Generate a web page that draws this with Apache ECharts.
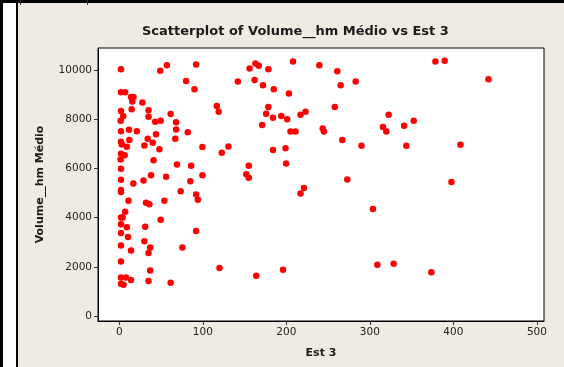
<!DOCTYPE html>
<html>
<head>
<meta charset="utf-8">
<script src="https://cdn.jsdelivr.net/npm/echarts@6/dist/echarts.min.js"></script>
<style>
  html, body { margin: 0; padding: 0; background: #efebe2; }
  #chart { width: 564px; height: 367px; }
</style>
</head>
<body>
<div id="chart"></div>
<script>
// Est 3 values (x) and Volume__hm Médio values (y)
const est3 = [
  2, 49, 57, 92, 80, 90, 2, 7, 14, 17, 15.6, 27.6, 2, 35, 4.7, 14.8, 35, 1.6, 43, 49.5,
  61.5, 68, 68, 2, 11.6, 21, 82, 2, 3, 12, 34, 44, 40, 67, 9, 30, 48, 99.5, 2, 6.4,
  1.6, 41, 2, 69, 86, 38, 56, 99.5, 2, 29, 16.8, 85, 2, 2, 73.5, 92, 94, 11, 32, 36,
  54, 7, 2, 4, 2, 9, 31, 49.5, 2, 10.4, 92, 2, 30, 37, 35, 14, 75.5, 2, 37, 2,
  8, 14, 35, 61.5, 2, 5, 163, 167, 156, 178.5, 208, 239.5, 261, 142, 162, 172, 185, 203, 265, 283,
  116.7, 119, 178.5, 175.8, 184, 194, 201, 217, 223, 258, 171, 205, 211, 243.5, 245, 267, 290, 122.7, 130.7, 184,
  199, 199.7, 155, 152, 155, 273, 221, 217, 120, 164, 196, 378.5, 389.6, 442, 322.5, 315.7, 319.7, 341, 352.5, 343.7,
  408.5, 397.7, 303.7, 309, 328.5, 373.6
];
const volume = [
  10040, 9970, 10200, 10230, 9560, 9220, 9100, 9100, 8910, 8910, 8720, 8680, 8340, 8370, 8120, 8410, 8100, 7940, 7900, 7940,
  8220, 7880, 7590, 7520, 7580, 7520, 7470, 7090, 6980, 7160, 7210, 7390, 7050, 7210, 6880, 6940, 6780, 6870, 6600, 6540,
  6370, 6340, 5990, 6160, 6110, 5730, 5670, 5730, 5540, 5510, 5390, 5480, 5130, 5050, 5080, 4940, 4730, 4690, 4610, 4550,
  4690, 4240, 4010, 4010, 3730, 3610, 3630, 3920, 3380, 3220, 3460, 2870, 3040, 2790, 2560, 2670, 2790, 2220, 1850, 1570,
  1570, 1470, 1430, 1360, 1310, 1270, 10270, 10180, 10070, 10040, 10350, 10200, 9950, 9540, 9600, 9390, 9220, 9050, 9390, 9540,
  8540, 8310, 8500, 8230, 8060, 8140, 8000, 8190, 8310, 8500, 7770, 7500, 7500, 7630, 7500, 7160, 6930, 6640, 6900, 6750,
  6820, 6200, 6110, 5770, 5620, 5550, 5210, 4980, 1960, 1640, 1880, 10350, 10380, 9630, 8190, 7690, 7500, 7740, 7940, 6930,
  6970, 5450, 4350, 2090, 2130, 1780
];
const xTicks = [0, 100, 200, 300, 400, 500];
const yTicks = [0, 2000, 4000, 6000, 8000, 10000];

const points = est3.map((x, i) => [x, volume[i]]);
const font = 'DejaVu Sans';

const chart = echarts.init(document.getElementById('chart'));
chart.setOption({
  animation: false,
  backgroundColor: '#efebe2',
  title: {
    text: 'Scatterplot of Volume__hm Médio vs Est 3',
    left: 137,
    top: 20,
    textStyle: { fontFamily: font, fontSize: 13, fontWeight: 'bold', color: '#1a1a1a' }
  },
  graphic: [
    { type: 'rect', shape: { x: 3, y: 0, width: 14, height: 367 }, style: { fill: '#ffffff' }, silent: true },
    { type: 'rect', shape: { x: 0, y: 0, width: 3, height: 367 }, style: { fill: '#000000' }, silent: true },
    { type: 'rect', shape: { x: 16, y: 0, width: 2, height: 367 }, style: { fill: '#000000' }, silent: true },
    { type: 'rect', shape: { x: 0, y: 0, width: 564, height: 3 }, style: { fill: '#000000' }, silent: true },
    { type: 'rect', shape: { x: 20, y: 0, width: 1, height: 5 }, style: { fill: '#333333' }, silent: true },
    { type: 'rect', shape: { x: 87, y: 0, width: 1, height: 5 }, style: { fill: '#333333' }, silent: true }
  ],
  grid: {
    left: 98,
    top: 48,
    right: 20,
    bottom: 46,
    show: true,
    backgroundColor: '#ffffff',
    borderColor: '#000000',
    borderWidth: 1
  },
  xAxis: {
    type: 'value',
    min: -25.5,
    max: 508.5,
    name: 'Est 3',
    nameLocation: 'middle',
    nameGap: 27,
    nameTextStyle: { fontFamily: font, fontSize: 11, fontWeight: 'bold', color: '#1a1a1a' },
    axisLine: { show: true, onZero: false, lineStyle: { color: '#000000', width: 1 } },
    axisTick: { show: true, length: 4, customValues: xTicks, lineStyle: { color: '#333333' } },
    axisLabel: {
      customValues: xTicks, margin: 6, fontFamily: font, fontSize: 10.5, color: '#222222',
      formatter: v => String(v)
    },
    splitLine: { show: false }
  },
  yAxis: {
    type: 'value',
    min: -200,
    max: 10900,
    name: 'Volume__hm Médio',
    nameLocation: 'middle',
    nameGap: 52,
    nameTextStyle: { fontFamily: font, fontSize: 11, fontWeight: 'bold', color: '#1a1a1a' },
    axisLine: { show: true, onZero: false, lineStyle: { color: '#000000', width: 1 } },
    axisTick: { show: true, length: 4, customValues: yTicks, lineStyle: { color: '#333333' } },
    axisLabel: {
      customValues: yTicks, margin: 6, fontFamily: font, fontSize: 10.5, color: '#222222',
      formatter: v => String(v)
    },
    splitLine: { show: false }
  },
  series: [
    {
      type: 'scatter',
      data: points,
      symbol: 'circle',
      symbolSize: 6.5,
      itemStyle: { color: '#ff0000', opacity: 1 }
    }
  ]
});
</script>
</body>
</html>
